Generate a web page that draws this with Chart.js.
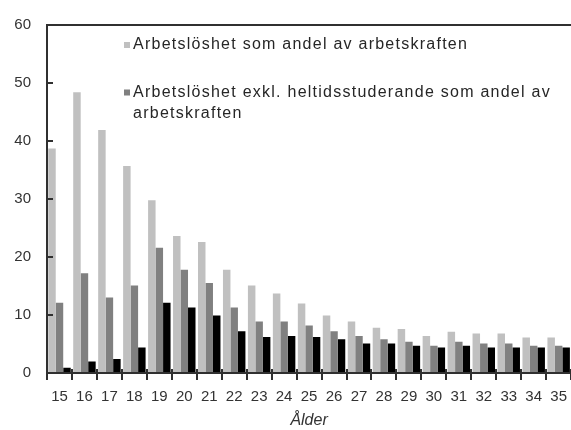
<!DOCTYPE html>
<html>
<head>
<meta charset="utf-8">
<script src="https://cdn.jsdelivr.net/npm/chart.js@4.4.1/dist/chart.umd.min.js"></script>
<style>
  html, body { margin: 0; padding: 0; background: #ffffff; overflow: hidden; }
  #wrap { position: relative; width: 574px; height: 430px; }
</style>
</head>
<body>
<div id="wrap"><canvas id="c"></canvas></div>
<script>
// ---- data ----
const ages = ['15','16','17','18','19','20','21','22','23','24','25','26','27','28','29','30','31','32','33','34','35'];
const unemploymentShare = [38.7, 48.4, 41.9, 35.7, 29.8, 23.6, 22.6, 17.8, 15.1, 13.7, 12.0, 9.9, 8.9, 7.8, 7.6, 6.4, 7.1, 6.8, 6.8, 6.1, 6.1];
const unemploymentExclStudents = [12.1, 17.2, 13.0, 15.1, 21.6, 17.8, 15.5, 11.3, 8.9, 8.9, 8.2, 7.2, 6.4, 5.8, 5.4, 4.7, 5.4, 5.1, 5.1, 4.7, 4.7];
const thirdSeries = [0.9, 2.0, 2.4, 4.4, 12.1, 11.3, 9.9, 7.2, 6.2, 6.4, 6.2, 5.8, 5.1, 5.1, 4.7, 4.4, 4.7, 4.4, 4.4, 4.4, 4.4];
const seriesNames = ['Arbetslöshet som andel av arbetskraften', 'Arbetslöshet exkl. heltidsstuderande som andel av arbetskraften', ''];
const legendLines = [['Arbetslöshet som andel av arbetskraften'], ['Arbetslöshet exkl. heltidsstuderande som andel av', 'arbetskraften']];
const yTicks = [0, 10, 20, 30, 40, 50, 60];
const xTitle = 'Ålder';

const colors = ['#c0c0c0', '#808080', '#000000'];
const axisColor = '#303030';
const textColor = '#333333';
const FONT = '"Liberation Sans", Arial, sans-serif';

const frameAndLegend = {
  id: 'frameAndLegend',
  afterDraw(chart) {
    const ctx = chart.ctx;
    const a = chart.chartArea;
    const xs = chart.scales.x, ys = chart.scales.y;
    const L = Math.round(a.left), R = Math.round(a.right), T = Math.round(a.top), B = Math.round(a.bottom);
    ctx.save();
    ctx.fillStyle = axisColor;
    // top frame line
    ctx.fillRect(L - 1, T - 1, R - L + 1, 2);
    // y axis line
    ctx.fillRect(L - 1, T - 1, 2, B - T + 2);
    // x axis line
    ctx.fillRect(L - 1, B - 1, R - L + 1, 2);
    // y ticks (pointing inward)
    ys.ticks.forEach(t => {
      const py = Math.round(ys.getPixelForValue(t.value));
      ctx.fillRect(L, py - 1, 6, 2);
    });
    // x ticks at category boundaries, crossing the axis
    const n = xs.ticks.length;
    const step = xs.getPixelForTick(1) - xs.getPixelForTick(0);
    for (let i = 0; i <= n; i++) {
      const px = Math.round((i < n ? xs.getPixelForTick(i) : xs.getPixelForTick(n - 1) + step) - step / 2);
      ctx.fillRect(px - 1, B - 4, 2, 11);
    }
    // legend (inside the plot area)
    const itemY = [45, 92.5];
    const lineGap = 21.5;
    ctx.font = '16px ' + FONT;
    if ('letterSpacing' in ctx) ctx.letterSpacing = '1.25px';
    ctx.textBaseline = 'middle';
    ctx.textAlign = 'left';
    legendLines.forEach((lines, i) => {
      const y = itemY[i];
      ctx.fillStyle = colors[i];
      ctx.fillRect(124, y - 3, 6, 6);
      ctx.fillStyle = '#262626';
      lines.forEach((t, j) => ctx.fillText(t, 133, y + j * lineGap));
    });
    ctx.restore();
  }
};

new Chart(document.getElementById('c'), {
  type: 'bar',
  data: {
    labels: ages,
    datasets: [
      { label: seriesNames[0], data: unemploymentShare, backgroundColor: colors[0] },
      { label: seriesNames[1], data: unemploymentExclStudents, backgroundColor: colors[1] },
      { label: seriesNames[2], data: thirdSeries, backgroundColor: colors[2] }
    ]
  },
  options: {
    responsive: true,
    maintainAspectRatio: false,
    animation: false,
    layout: { padding: { top: 20, right: 0, left: 0, bottom: 0 } },
    datasets: { bar: { categoryPercentage: 0.9, barPercentage: 1.0, borderWidth: 0 } },
    plugins: { legend: { display: false }, tooltip: { enabled: false } },
    scales: {
      x: {
        grid: { display: true, drawOnChartArea: false, offset: true, tickLength: 8, color: 'rgba(0,0,0,0)' },
        border: { display: false },
        ticks: { color: textColor, font: { family: FONT, size: 15 }, padding: 7, maxRotation: 0, autoSkip: false },
        title: { display: true, text: xTitle, color: textColor, font: { family: FONT, size: 16, style: 'italic' }, padding: { top: 0, bottom: 0 } },
        afterFit(scale) { scale.height = 57; }
      },
      y: {
        min: 0, max: 60,
        afterBuildTicks(scale) { scale.ticks = yTicks.map(v => ({ value: v })); },
        grid: { display: true, drawOnChartArea: false, tickLength: 0, color: 'rgba(0,0,0,0)' },
        border: { display: false },
        ticks: { color: textColor, font: { family: FONT, size: 15 }, padding: 16 },
        afterFit(scale) { scale.width = 47; }
      }
    }
  },
  plugins: [frameAndLegend]
});
</script>
</body>
</html>
